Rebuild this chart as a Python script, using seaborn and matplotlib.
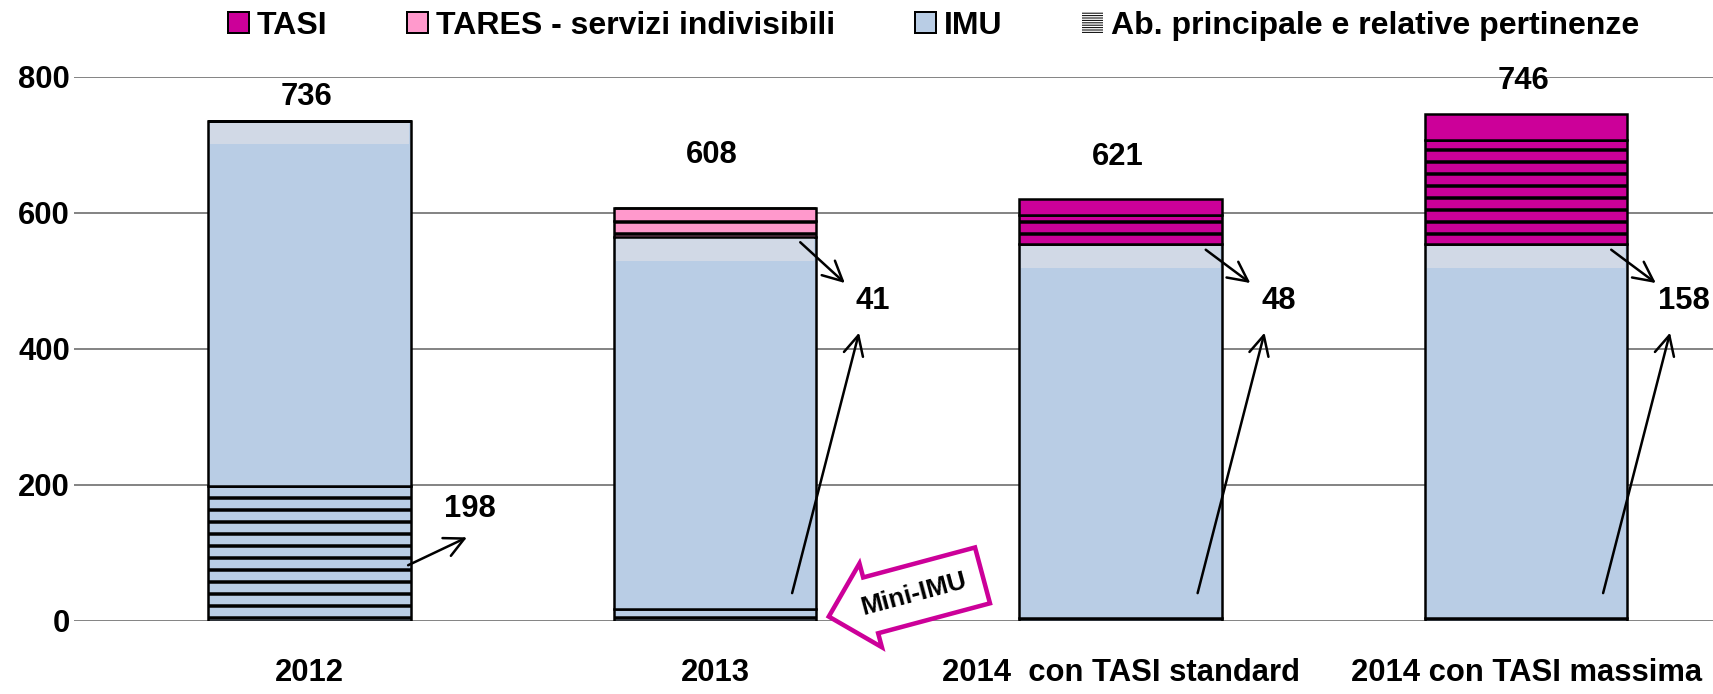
import matplotlib
matplotlib.use("Agg")
import matplotlib.pyplot as plt
import seaborn as sns
import pandas as pd
from matplotlib.patches import Patch

# data
categories = ["2012", "2013", "2014  con TASI standard", "2014 con TASI massima"]
imu_ab_princ = [198, 18, 5, 5]        # IMU su abitazione principale (hatched)
imu_altri = [538, 547, 549, 549]      # IMU altri immobili
tares_ab_princ = [0, 23, 0, 0]        # TARES servizi indivisibili - ab. principale
tasi_ab_princ = [0, 0, 43, 153]       # TASI - ab. principale
tares_altri = [0, 20, 0, 0]
tasi_altri = [0, 0, 24, 39]
totals = [736, 608, 621, 746]
ab_princ_totals = [198, 41, 48, 158]

C_TASI = "#CC0099"
C_TARES = "#FF99CC"
C_IMU = "#B9CDE5"
C_BAND = "#D1D9E6"
FONT = ["Liberation Sans", "DejaVu Sans"]
FS = 31

sns.set_theme(style="white")
plt.rcParams["font.family"] = FONT
plt.rcParams["font.weight"] = "bold"
plt.rcParams["hatch.linewidth"] = 3.5
for k in ("text.color", "axes.labelcolor", "xtick.color", "ytick.color"):
    plt.rcParams[k] = "black"

df = pd.DataFrame({
    "anno": categories,
    "imu_ab": imu_ab_princ,
    "imu_altri": imu_altri,
    "tares_ab": tares_ab_princ,
    "tasi_ab": tasi_ab_princ,
    "tares_altri": tares_altri,
    "tasi_altri": tasi_altri,
})

W, H = 1713, 694
fig = plt.figure(figsize=(W / 72, H / 72), dpi=72)
ax = fig.add_axes([74 / W, 73 / H, (W - 74) / W, 544 / H])

bar_kw = dict(width=0.5, edgecolor="black", linewidth=2.5, saturation=1, err_kws={"linewidth": 0})


def layer(col, bottom, color, hatch=None):
    sns.barplot(data=df, x="anno", y=col, bottom=bottom, color=color,
                hatch=hatch, ax=ax, zorder=2, **bar_kw)


bottom = pd.Series([0] * len(categories), dtype=float)
layer("imu_ab", bottom.values, C_IMU, "-")
bottom += df["imu_ab"]
layer("imu_altri", bottom.values, C_IMU)
bottom += df["imu_altri"]

# lighter band at the top of the IMU block (gradient look of the original)
band = 35
sns.barplot(x=df["anno"], y=[band - 2] * len(categories), bottom=(bottom - band).values,
            color=C_BAND, width=0.49, linewidth=0, saturation=1, ax=ax, zorder=2)

layer("tares_ab", bottom.values, C_TARES, "-")
bottom += df["tares_ab"]
layer("tasi_ab", bottom.values, C_TASI, "-")
bottom += df["tasi_ab"]
layer("tares_altri", bottom.values, C_TARES)
bottom += df["tares_altri"]
layer("tasi_altri", bottom.values, C_TASI)
bottom += df["tasi_altri"]

ax.set_xlim(-0.581, 3.461)
ax.set_ylim(0, 800)
ax.set_yticks([0, 200, 400, 600, 800])
ax.yaxis.grid(True, color="#868686", linewidth=2)
ax.xaxis.grid(False)
ax.set_axisbelow(True)
for s in ax.spines.values():
    s.set_visible(False)
ax.set_xlabel("")
ax.set_ylabel("")
ax.tick_params(axis="y", length=0, pad=4, labelsize=FS)
ax.tick_params(axis="x", length=0, pad=37, labelsize=FS)
for t in ax.get_xticklabels() + ax.get_yticklabels():
    t.set_fontweight("bold")

# totals above bars
label_offsets = [24, 53, 42, 33]
for i, (tot, off) in enumerate(zip(totals, label_offsets)):
    ax.annotate(str(tot), xy=(i, tot), xytext=(-3, off), textcoords="offset points",
                ha="center", va="center", fontsize=FS, fontweight="bold")

# abitazione principale totals with arrows
arrow_kw = dict(arrowstyle="->,head_length=0.7,head_width=0.35", lw=2.5, color="black",
                shrinkA=0, shrinkB=0, mutation_scale=28)
ax.text(0.396, 165, str(ab_princ_totals[0]), ha="center", va="center",
        fontsize=FS, fontweight="bold")
ax.annotate("", xy=(0.388, 123), xytext=(0.243, 82), arrowprops=arrow_kw)
for i in (1, 2, 3):
    ax.text(i + 0.39, 470, str(ab_princ_totals[i]), ha="center", va="center",
            fontsize=FS, fontweight="bold", clip_on=False)
    top_imu = imu_ab_princ[i] + imu_altri[i]
    ax.annotate("", xy=(i + 0.32, 497), xytext=(i + 0.21, top_imu - 8), arrowprops=arrow_kw)
    ax.annotate("", xy=(i + 0.355, 424), xytext=(i + 0.19, 41), arrowprops=arrow_kw)

# Mini-IMU callout
ax.text(1.49, 40, "Mini-IMU", rotation=15, ha="center", va="center",
        fontsize=26, fontweight="bold", zorder=5,
        bbox=dict(boxstyle="larrow,pad=0.65", fc="white", ec=C_TASI, lw=4.5))

# legend
with plt.rc_context({"hatch.linewidth": 1.0}):
    handles = [
        Patch(facecolor=C_TASI, edgecolor="black", linewidth=2),
        Patch(facecolor=C_TARES, edgecolor="black", linewidth=2),
        Patch(facecolor=C_IMU, edgecolor="black", linewidth=2),
        Patch(facecolor="white", edgecolor="black", linewidth=0, hatch="-----"),
    ]
    labels = ["TASI", "TARES - servizi indivisibili", "IMU",
              "Ab. principale e relative pertinenze"]
    leg = fig.legend(handles, labels, loc="center", bbox_to_anchor=(0.545, 1 - 26 / H),
                     ncol=4, frameon=False, prop={"size": 32, "weight": "bold", "family": FONT},
                     handlelength=0.65, handleheight=0.65, handletextpad=0.25,
                     columnspacing=2.5)
    for p in leg.get_patches():
        if hasattr(p, "set_hatch_linewidth"):
            p.set_hatch_linewidth(1.0)

fig.savefig("out.png", dpi=72)
